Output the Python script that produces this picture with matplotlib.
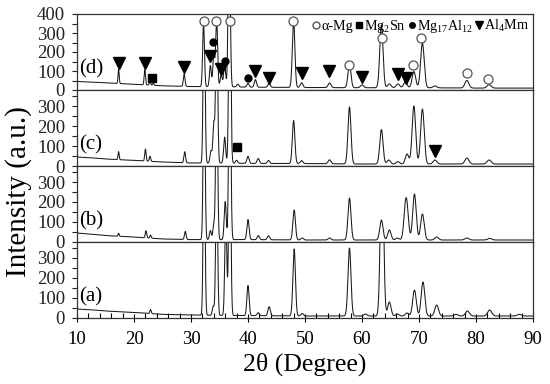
import numpy as np
import matplotlib
matplotlib.use('Agg')
import matplotlib.pyplot as plt
from matplotlib.lines import Line2D
from matplotlib.ticker import MultipleLocator

plt.rcParams['font.family'] = ['Liberation Serif', 'DejaVu Serif']
plt.rcParams['mathtext.fontset'] = 'custom'
plt.rcParams['mathtext.rm'] = 'Liberation Serif'

# background levels read at these angles
bg_x = [10, 12, 15, 20, 25, 30, 35, 40, 50, 60, 70, 80, 90]
bg_a = [45, 42, 35, 28, 18, 15, 13, 12, 10, 10, 10, 10, 10]
bg_b = [45, 40, 32, 25, 15, 12, 12, 12, 10, 10, 10, 10, 10]
bg_c = [45, 42, 35, 28, 20, 15, 15, 13, 12, 10, 10, 10, 10]
bg_d = [45, 42, 38, 30, 22, 18, 18, 15, 13, 12, 12, 10, 10]

# peak positions (2theta) and heights above background
pos_a = [22.9, 32.3, 33.9, 34.5, 36.1, 36.8, 40.0, 41.8, 43.7, 48.1, 49.5, 57.8, 60.6,
         63.5, 64.8, 66.2, 67.9, 69.2, 70.7, 73.1, 76.5, 78.5, 82.4, 87.6]
h_a = [20, 900, 45, 700, 500, 1000, 150, 15, 45, 335, 12, 340, 10,
       800, 70, 10, 15, 130, 170, 55, 8, 25, 30, 8]

pos_b = [17.3, 22.1, 22.9, 29.0, 32.3, 33.4, 34.0, 34.5, 36.0, 36.8, 40.0, 41.8, 43.6,
         48.1, 49.5, 54.3, 57.8, 63.4, 64.8, 66.2, 67.6, 67.9, 69.2, 70.6, 73.1, 78.4, 82.4]
h_b = [15, 35, 15, 40, 900, 45, 75, 800, 190, 1000, 100, 20, 20,
       150, 10, 10, 210, 100, 50, 10, 120, 120, 230, 130, 15, 10, 8]

pos_c = [17.3, 22.0, 22.8, 28.9, 32.3, 33.5, 34.0, 34.5, 35.9, 36.8, 38.0, 40.0, 41.8,
         43.6, 48.0, 49.4, 54.3, 57.8, 63.4, 64.7, 66.3, 67.9, 69.1, 70.6, 72.8, 78.4, 82.3]
h_c = [40, 60, 25, 55, 900, 60, 200, 800, 130, 1000, 15, 35, 25,
       15, 215, 15, 20, 285, 172, 20, 12, 50, 290, 275, 20, 30, 20]

pos_d = [17.3, 21.9, 22.8, 23.4, 28.8, 32.2, 33.4, 34.0, 34.5, 35.3, 35.9, 36.7, 38.2,
         40.0, 41.3, 43.7, 48.0, 49.4, 54.3, 57.8, 60.0, 63.4, 64.8, 66.3, 67.6, 69.1,
         70.6, 72.8, 78.4, 82.3]
h_d = [75, 80, 20, 10, 65, 330, 110, 170, 355, 65, 115, 900, 15,
       20, 40, 20, 355, 25, 25, 125, 15, 330, 20, 20, 30, 85,
       235, 10, 40, 18]

# phase markers (top pattern unless noted)
amg_x = [32.2, 34.4, 36.8, 47.9, 57.7, 63.45, 69.0, 70.4, 78.5, 82.1]
amg_y = [365, 365, 365, 365, 131, 272, 131, 272, 91, 58]
mg2sn_x = [23.1]
mg2sn_y = [65]
mg17_x = [33.8, 35.9, 39.95]
mg17_y = [251, 153, 65]
al4_x = [17.3, 21.9, 28.8, 33.4, 35.3, 41.3, 43.7, 49.5, 54.2, 60.05, 66.4, 67.7]
al4_y = [140, 140, 123, 179, 109, 100, 61, 88, 100, 70, 84, 61]
mg2sn_c = (38.0, 97)
al4_c = (72.8, 77)

labels = ['(d)', '(c)', '(b)', '(a)']
bgs = [bg_d, bg_c, bg_b, bg_a]
peaks = [(pos_d, h_d), (pos_c, h_c), (pos_b, h_b), (pos_a, h_a)]

tt = np.arange(10, 90.001, 0.02)


def pattern(bg, pos, h):
    y = np.interp(tt, bg_x, bg)
    for p, a in zip(pos, h):
        w = 0.15 + 0.004 * (p - 30)
        y = y + a * np.exp(-0.5 * ((tt - p) / w) ** 2)
    return y


fig = plt.figure(figsize=(5.5, 3.84), dpi=100)
left, width = 77 / 550, 456 / 550
ph = 76 / 384
lc = '#1a1a1a'
axes = []
for i in range(4):
    bottom = 1 - (14 + 76 * (i + 1)) / 384
    ax = fig.add_axes([left, bottom, width, ph])
    ax.plot(tt, pattern(bgs[i], *peaks[i]), color=lc, lw=0.75)
    ax.set_xlim(10, 90)
    ax.set_ylim(0, 400 if i == 0 else 380)
    ax.yaxis.set_major_locator(MultipleLocator(100))
    ax.yaxis.set_minor_locator(MultipleLocator(50))
    ax.tick_params(axis='y', which='both', direction='out', length=3.6, width=0.8,
                   labelsize=13.5, pad=5, colors='#222')
    for s in ax.spines.values():
        s.set_linewidth(0.9)
        s.set_color('#333')
    if i < 3:
        ax.xaxis.set_major_locator(MultipleLocator(5))
        ax.tick_params(axis='x', which='major', direction='out', length=4, width=0.8,
                       labelbottom=False)
    else:
        ax.xaxis.set_major_locator(MultipleLocator(10))
        ax.xaxis.set_minor_locator(MultipleLocator(2))
        ax.tick_params(axis='x', which='major', direction='inout', length=6, width=0.8,
                       labelsize=13.5, pad=6)
        ax.tick_params(axis='x', which='minor', direction='in', length=3.5, width=0.8)
    ax.text(10.3, 105 if i else 110, labels[i], fontsize=15, va='center', ha='left')
    axes.append(ax)

ax_d, ax_c = axes[0], axes[1]
ax_d.plot(amg_x, amg_y, 'o', ms=6.5, mfc='white', mec='#555', mew=0.9, ls='none')
ax_d.plot(mg2sn_x, mg2sn_y, 's', ms=5.5, color='k', ls='none')
ax_d.plot(mg17_x, mg17_y, 'o', ms=5, color='k', ls='none')
ax_d.plot(al4_x, al4_y, 'v', ms=8, color='k', ls='none')
ax_c.plot(*mg2sn_c, 's', ms=5.5, color='k')
ax_c.plot(*al4_c, 'v', ms=8, color='k')

handles = [
    Line2D([], [], marker='o', ls='none', mfc='white', mec='#555', ms=5),
    Line2D([], [], marker='s', ls='none', color='k', ms=4.5),
    Line2D([], [], marker='o', ls='none', color='k', ms=4),
    Line2D([], [], marker='v', ls='none', color='k', ms=6),
]
names = ['α-Mg', r'Mg$_\mathregular{2}$Sn', r'Mg$_\mathregular{17}$Al$_\mathregular{12}$',
         r'Al$_\mathregular{4}$Mm']
ax_d.legend(handles, names, loc='upper right', ncol=4, frameon=False, fontsize=10.2,
            handlelength=0.5, handletextpad=0.15, columnspacing=0.15, borderpad=0.1,
            borderaxespad=0.15)

fig.text(0.034, 1 - 192 / 384, 'Intensity (a.u.)', rotation=90, fontsize=21,
         va='center', ha='center')
fig.text(left + width / 2, 1 - 364 / 384, '2θ (Degree)', fontsize=18.5,
         ha='center', va='center')

fig.savefig('out.png', dpi=100)
